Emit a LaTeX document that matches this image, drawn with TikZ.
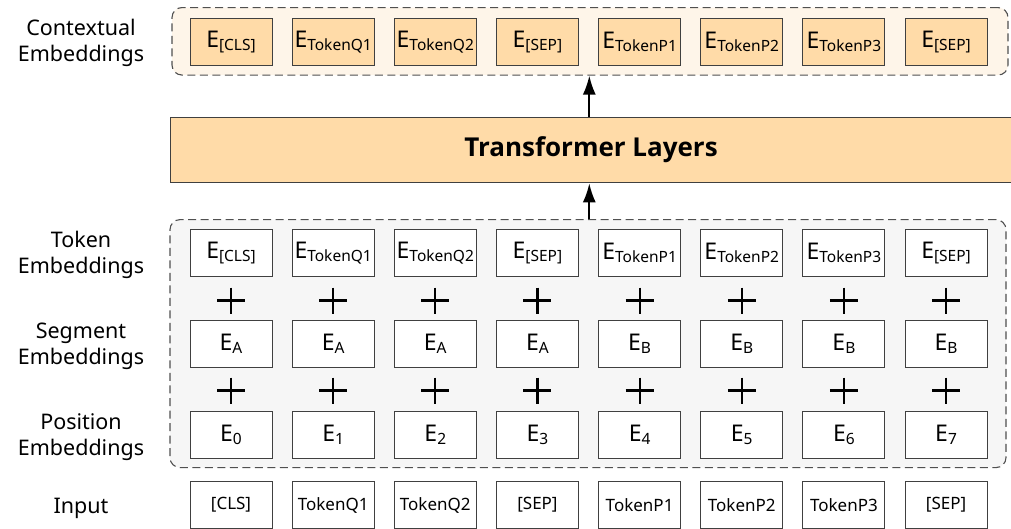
\documentclass[tikz,border=0pt]{standalone}
\usepackage{fontspec}
\setmainfont{Noto Sans}
\newfontfamily\headfont{Open Sans}
\usetikzlibrary{arrows.meta}

\definecolor{peach}{HTML}{FFDBA8}
\definecolor{peachbg}{HTML}{FEF5E9}
\definecolor{graybg}{HTML}{F6F6F6}
\definecolor{edge}{HTML}{404040}
\definecolor{dashc}{HTML}{505050}

% E with a lowered, smaller index
\newcommand{\embE}[1]{{\fontsize{23}{23}\selectfont E}\raisebox{-3pt}{\fontsize{15.5}{15.5}\selectfont #1}}

\tikzset{
  cell/.style={draw=edge, line width=0.9pt, minimum width=82pt, minimum height=47pt, inner sep=0pt, anchor=center},
  ctxcell/.style={cell, fill=peach},
  embcell/.style={cell, fill=white},
  incell/.style={cell, fill=white, font=\fontsize{17}{17}\selectfont},
  group/.style={draw=dashc, dashed, dash pattern=on 8pt off 4.5pt, line width=1.1pt, rounded corners=10pt, inner sep=0pt},
  rowlabel/.style={align=center, font=\fontsize{21.5}{26}\selectfont, anchor=center},
  arr/.style={line width=2pt, -{Latex[length=19pt,width=13pt]}},
  plusline/.style={line width=2.2pt, line cap=butt}
}

\begin{document}
\begin{tikzpicture}[x=1pt,y=-1pt]
\useasboundingbox (0,0) rectangle (1011,528);
\clip (0,0) rectangle (1011,528);

% dashed groups
\node[group, fill=peachbg, minimum width=836pt, minimum height=67.5pt] (ctx) at (590,41.3) {};
\node[group, fill=graybg, minimum width=836pt, minimum height=248pt] (emb) at (588,343.6) {};

% transformer block
\node[draw=edge, line width=1pt, fill=peach, minimum width=842pt, minimum height=65.6pt, inner sep=0pt,
      font=\headfont\bfseries\fontsize{26}{26}\selectfont] (tl) at (591,150) {Transformer Layers};

% row labels
\node[rowlabel] (lctx) at (81,43) {Contextual\\Embeddings};
\node[rowlabel] (ltok) at (81,255) {Token\\Embeddings};
\node[rowlabel] (lseg) at (81,346) {Segment\\Embeddings};
\node[rowlabel] (lpos) at (81,437) {Position\\Embeddings};
\node[rowlabel] (lin) at (81,508) {Input};

% columns
\foreach \i/\tok/\seg in {0/[CLS]/A,1/TokenQ1/A,2/TokenQ2/A,3/[SEP]/A,4/TokenP1/B,5/TokenP2/B,6/TokenP3/B,7/[SEP]/B}{
  \pgfmathsetmacro{\cx}{231+102.15*\i}
  \node[ctxcell] (c\i) at (\cx,42.2) {\embE{\tok}};
  \node[embcell] (t\i) at (\cx,253.3) {\embE{\tok}};
  \node[embcell] (s\i) at (\cx,344) {\embE{\seg}};
  \node[embcell] (p\i) at (\cx,435) {\embE{\i}};
  \node[incell] (in\i) at (\cx,505) {\tok};
  % plus signs between the embedding rows
  \draw[plusline] (\cx-14,300.5) -- (\cx+14,300.5) (\cx,287.5) -- (\cx,313.5);
  \draw[plusline] (\cx-14,390.5) -- (\cx+14,390.5) (\cx,377.5) -- (\cx,403.5);
}

% flow arrows
\coordinate (ax) at (589.3,0);
\draw[arr] (emb.north -| ax) -- (tl.south -| ax);
\draw[arr] (tl.north -| ax) -- (ctx.south -| ax);
\end{tikzpicture}
\end{document}
